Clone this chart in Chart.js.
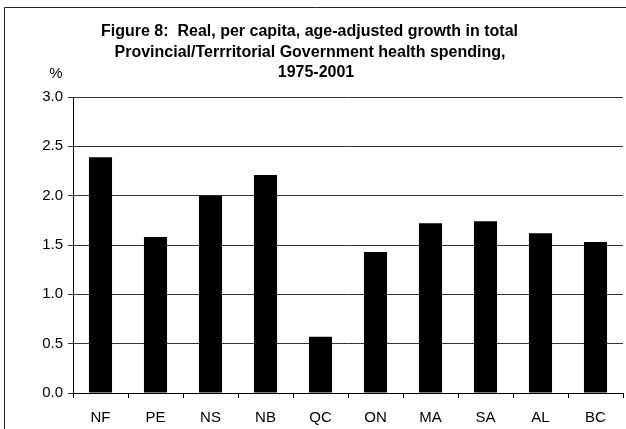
<!DOCTYPE html>
<html>
<head>
<meta charset="utf-8">
<script src="https://cdn.jsdelivr.net/npm/chart.js@4/dist/chart.umd.min.js"></script>
<style>
  html, body { margin: 0; padding: 0; background: #fff; overflow: hidden; }
  #chart { display: block; }
</style>
</head>
<body>
<canvas id="chart" width="626" height="429"></canvas>
<script>
const provinces = ['NF', 'PE', 'NS', 'NB', 'QC', 'ON', 'MA', 'SA', 'AL', 'BC'];
const growthPct = [2.39, 1.58, 2.00, 2.21, 0.57, 1.43, 1.72, 1.74, 1.62, 1.53];
const yMin = 0;
const yMax = 3;
const yStep = 0.5;
const titleLines = [
  'Figure 8:  Real, per capita, age-adjusted growth in total',
  'Provincial/Terrritorial Government health spending,',
  '1975-2001'
];
const unitLabel = '%';

const FONT = '"Liberation Sans", Arial, Helvetica, sans-serif';

// frame, title and the "%" label are drawn straight on the canvas
const framePlugin = {
  id: 'frame',
  beforeDraw(chart) {
    const ctx = chart.ctx;
    ctx.save();
    ctx.fillStyle = '#fff';
    ctx.fillRect(0, 0, chart.width, chart.height);
    ctx.strokeStyle = '#222';
    ctx.lineWidth = 1;
    ctx.beginPath();
    ctx.moveTo(4.5, chart.height + 5);
    ctx.lineTo(4.5, 7.5);
    ctx.lineTo(chart.width + 5, 7.5);
    ctx.stroke();

    ctx.fillStyle = '#000';
    ctx.textAlign = 'center';
    ctx.textBaseline = 'alphabetic';
    ctx.font = 'bold 16px ' + FONT;
    ctx.fillText(titleLines[0], 309.5, 36);
    ctx.fillText(titleLines[1], 310, 56.5);
    ctx.fillText(titleLines[2], 316, 77);

    ctx.font = '15px ' + FONT;
    ctx.fillText(unitLabel, 56, 78);
    ctx.restore();
  }
};

new Chart(document.getElementById('chart'), {
  type: 'bar',
  data: {
    labels: provinces,
    datasets: [{
      data: growthPct,
      backgroundColor: '#000',
      borderWidth: 0,
      barPercentage: 0.42,
      categoryPercentage: 1
    }]
  },
  options: {
    responsive: false,
    animation: false,
    layout: {
      padding: { top: 97, right: 3, bottom: 0, left: 0 }
    },
    scales: {
      x: {
        grid: {
          offset: true,
          drawOnChartArea: false,
          drawTicks: true,
          tickLength: 5,
          color: '#000'
        },
        border: { color: '#000', width: 1 },
        ticks: {
          color: '#000',
          font: { family: FONT, size: 15 },
          padding: 11,
          maxRotation: 0
        },
        afterFit(scale) {
          scale.height = 36;
        }
      },
      y: {
        min: yMin,
        max: yMax,
        grid: {
          color: '#333',
          tickLength: 5
        },
        border: { color: '#000', width: 1 },
        ticks: {
          stepSize: yStep,
          color: '#000',
          font: { family: FONT, size: 15 },
          padding: 5,
          callback: (v) => Number(v).toFixed(1)
        },
        afterFit(scale) {
          scale.width = 73;
        }
      }
    },
    plugins: {
      legend: { display: false },
      title: { display: false },
      tooltip: { enabled: false }
    }
  },
  plugins: [framePlugin]
});
</script>
</body>
</html>
